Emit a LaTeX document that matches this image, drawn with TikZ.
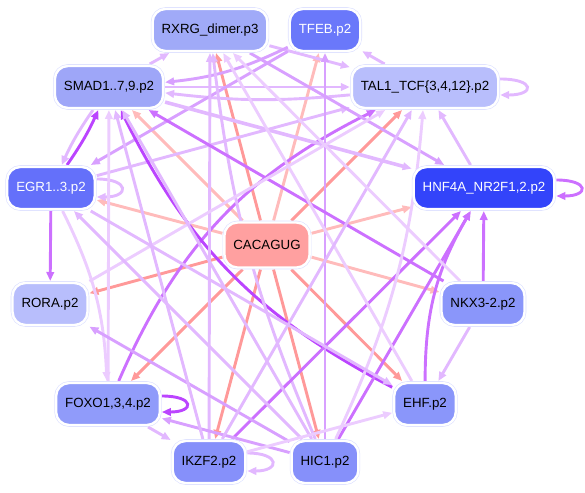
\documentclass[tikz,border=0pt]{standalone}
\usepackage{fontspec}
\setmainfont{Liberation Sans}
\usetikzlibrary{arrows.meta}

\definecolor{rim}{HTML}{DCE0FF}
\definecolor{cMotif}{HTML}{FFA0A0}
\definecolor{cRXRG}{HTML}{A0AAF8}
\definecolor{cSMAD}{HTML}{9EA6F8}
\definecolor{cTFEB}{HTML}{6A78FA}
\definecolor{cTAL}{HTML}{B8BEFC}
\definecolor{cEGR}{HTML}{6470FA}
\definecolor{cHNF}{HTML}{3344FA}
\definecolor{cRORA}{HTML}{B8BEFC}
\definecolor{cNKX}{HTML}{8A96FA}
\definecolor{cFOXO}{HTML}{909BFA}
\definecolor{cEHF}{HTML}{8A96FA}
\definecolor{cIKZF}{HTML}{8690FA}
\definecolor{cHIC}{HTML}{8690FA}
\definecolor{pkA}{HTML}{FF9999}
\definecolor{pkB}{HTML}{FFBBBB}
\definecolor{puA}{HTML}{BB44FF}
\definecolor{puB}{HTML}{CC70FF}
\definecolor{puC}{HTML}{D8A0FF}
\definecolor{puD}{HTML}{E2B8FF}
\definecolor{puE}{HTML}{ECCCFF}

\pgfdeclarelayer{bg}
\pgfsetlayers{bg,main}

\tikzset{
  tf/.style={rectangle, rounded corners=13pt, minimum height=42pt, inner xsep=9pt, inner ysep=0pt,
    outer sep=2pt, draw=white, line width=2.4pt, preaction={draw=rim, line width=3.6pt},
    font=\fontsize{13.3}{16}\selectfont},
  ed/.style={-{Triangle[length=9pt,width=7.5pt]}, line width=2.9pt},
}

\begin{document}
\begin{tikzpicture}[x=1pt,y=1pt]
\useasboundingbox (0,0) rectangle (585,-492);

\node[tf, fill=cMotif, minimum height=45pt] (cac) at (267,-245) {CACAGUG};
\node[tf, fill=cRXRG] (rxrg) at (210,-30) {RXRG\_dimer.p3};
\node[tf, fill=cTFEB, text=white] (tfeb) at (325,-30) {TFEB.p2};
\node[tf, fill=cSMAD] (smad) at (109,-87) {SMAD1..7,9.p2};
\node[tf, fill=cTAL] (tal1) at (425,-87) {TAL1\_TCF\{3,4,12\}.p2};
\node[tf, fill=cEGR, text=white] (egr) at (51,-188) {EGR1..3.p2};
\node[tf, fill=cHNF, text=white] (hnf4a) at (484,-188) {HNF4A\_NR2F1,2.p2};
\node[tf, fill=cRORA] (rora) at (50,-304) {RORA.p2};
\node[tf, fill=cNKX] (nkx) at (483,-304) {NKX3-2.p2};
\node[tf, fill=cFOXO] (foxo) at (108,-404) {FOXO1,3,4.p2};
\node[tf, fill=cEHF] (ehf) at (425,-404) {EHF.p2};
\node[tf, fill=cIKZF] (ikzf2) at (209,-462) {IKZF2.p2};
\node[tf, fill=cHIC] (hic1) at (325,-462) {HIC1.p2};

\begin{pgfonlayer}{bg}
% motif targets
\draw[ed, pkA] (cac) -- (rxrg);
\draw[ed, pkB] (cac) -- (tfeb);
\draw[ed, pkB] (cac) -- (smad);
\draw[ed, pkA] (cac) -- (tal1);
\draw[ed, pkB] (cac) -- (egr);
\draw[ed, pkB] (cac) -- (hnf4a);
\draw[ed, pkA] (cac) -- (rora);
\draw[ed, pkB] (cac) -- (nkx);
\draw[ed, pkA] (cac) -- (foxo);
\draw[ed, pkA] (cac) -- (ehf);
\draw[ed, pkA] (cac) -- (ikzf2);
\draw[ed, pkA] (cac) -- (hic1);

% self loops
\draw[ed, puD] ([yshift=9pt]egr.east) to[out=0, in=0, min distance=33pt, looseness=1] ([yshift=-9pt]egr.east);
\draw[ed, puD] ([yshift=8pt]tal1.east) to[out=0, in=0, min distance=35pt, looseness=1] ([yshift=-8pt]tal1.east);
\draw[ed, puB] ([yshift=8pt]hnf4a.east) to[out=0, in=0, min distance=33pt, looseness=1] ([yshift=-8pt]hnf4a.east);
\draw[ed, puA] ([yshift=8pt]foxo.east) to[out=0, in=0, min distance=33pt, looseness=1] ([yshift=-8pt]foxo.east);
\draw[ed, puD] ([yshift=9pt]ikzf2.east) to[out=0, in=0, min distance=33pt, looseness=1] ([yshift=-9pt]ikzf2.east);

% factor to factor
\draw[ed, puA] (egr) to[bend right=5] (smad);
\draw[ed, puD] (smad) to[bend right=5] (egr);
\draw[ed, puB] (egr) -- (rora);
\draw[ed, puB] (nkx) -- (hnf4a);
\draw[ed, puD] (nkx) -- (ehf);
\draw[ed, puD] (hnf4a) -- (tal1);
\draw[ed, puD] (tal1) -- (tfeb);
\draw[ed, puD] (smad) -- (rxrg);
\draw[ed, puD] (smad) -- (tal1);
\draw[ed, puD] (tal1) to[bend left=6] (smad);
\draw[ed, puD] (rxrg) -- (tal1);
\draw[ed, puC] (tfeb) to[bend left=10] (smad);
\draw[ed, puC] (tfeb) -- (egr);
\draw[ed, puD] (egr) -- (tal1);
\draw[ed, puB] (foxo) to[bend left=20] (tal1);
\draw[ed, puA] (ehf) to[bend left=18] (smad);
\draw[ed, puD] (ikzf2) -- (rxrg);
\draw[ed, puD] (hic1) to[bend left=8] (rxrg);
\draw[ed, puC] (hic1) -- (tfeb);
\draw[ed, puB] (ikzf2) -- (hnf4a);
\draw[ed, puB] (hic1) -- (hnf4a);
\draw[ed, puB] (ehf) to[bend left=15] (hnf4a);
\draw[ed, puD, line width=3.6pt] (smad) -- (hnf4a);
\draw[ed, puC] (rxrg) -- (hnf4a);
\draw[ed, puB] (nkx) -- (smad);
\draw[ed, puE] (foxo) -- (smad);
\draw[ed, puE] (egr) to[bend left=12] (foxo);
\draw[ed, puE] (rora) -- (tal1);
\draw[ed, puD] (hic1) -- (egr);
\draw[ed, puD] (hic1) -- (smad);
\draw[ed, puC] (hic1) -- (foxo);
\draw[ed, puC] (hic1) -- (rora);
\draw[ed, puE] (ikzf2) -- (ehf);
\draw[ed, puD] (foxo) -- (ikzf2);
\draw[ed, puE] (ehf) -- (rxrg);
\draw[ed, puD] (ikzf2) -- (tal1);
\draw[ed, puD] (ikzf2) -- (smad);
\draw[ed, puE] (nkx) -- (rxrg);
\draw[ed, puE] (hic1) to[bend right=10] (tal1);
\draw[ed, puD] (egr) -- (ehf);
\end{pgfonlayer}
\end{tikzpicture}
\end{document}
